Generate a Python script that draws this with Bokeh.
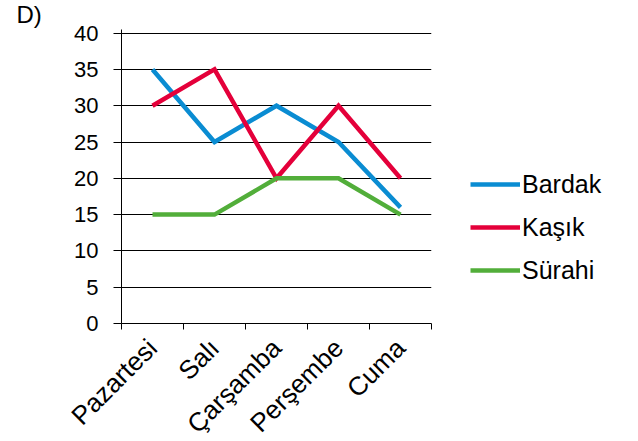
import math
from bokeh.plotting import figure
from bokeh.models import FixedTicker, Legend, LegendItem, Range1d
from bokeh.embed import file_html
from bokeh.resources import INLINE

days = ["Pazartesi", "Salı", "Çarşamba", "Perşembe", "Cuma"]
bardak = [35, 25, 30, 25, 16]
kasik = [30, 35, 20, 30, 20]
surahi = [15, 15, 20, 20, 15]
series_names = ["Bardak", "Kaşık", "Sürahi"]
y_ticks = [0, 5, 10, 15, 20, 25, 30, 35, 40]

colors = ["#0A8CD2", "#E4003A", "#52AE3A"]
FONT = "Liberation Sans"

xs = [i + 0.5 for i in range(len(days))]

p = figure(frame_width=310, frame_height=294, output_backend="svg", toolbar_location=None,
           x_range=Range1d(0, len(days)), y_range=Range1d(0, 40.5),
           min_border_left=121, min_border_right=199, min_border_top=29,
           min_border_bottom=111, title="D)")
p.outline_line_color = None
p.background_fill_color = "white"
p.border_fill_color = "white"

p.title.align = "left"
p.title.vertical_align = "top"
p.title.offset = -105
p.title.standoff = 0
p.title.text_font = FONT
p.title.text_font_size = "24px"
p.title.text_font_style = "normal"
p.title.text_color = "black"

renderers = []
for vals, c in zip([bardak, kasik, surahi], colors):
    r = p.line(xs, vals, line_color=c, line_width=4.5, line_cap="butt", line_join="miter")
    renderers.append(r)

# x axis: labels at category centres, minor ticks at boundaries
xa = p.xaxis[0]
xa.ticker = FixedTicker(ticks=xs, minor_ticks=list(range(len(days) + 1)))
xa.major_label_overrides = {x: d for x, d in zip(xs, days)}
xa.major_tick_out = 0
xa.major_tick_in = 0
xa.minor_tick_out = 6
xa.minor_tick_in = 0
xa.minor_tick_line_color = "black"
xa.axis_line_color = "black"
xa.major_label_orientation = math.pi / 4
xa.major_label_text_font = FONT
xa.major_label_text_font_size = "26px"
xa.major_label_text_color = "black"
xa.major_label_standoff = 14

ya = p.yaxis[0]
ya.ticker = FixedTicker(ticks=y_ticks, minor_ticks=[])
ya.major_tick_out = 8
ya.major_tick_in = 0
ya.major_tick_line_color = "black"
ya.axis_line_color = "black"
ya.major_label_text_font = FONT
ya.major_label_text_font_size = "22px"
ya.major_label_text_color = "black"
ya.major_label_standoff = 15

p.xgrid.grid_line_color = None
p.ygrid.ticker = FixedTicker(ticks=y_ticks)
p.ygrid.grid_line_color = "black"
p.ygrid.grid_line_width = 1

legend = Legend(items=[LegendItem(label=n, renderers=[r]) for n, r in zip(series_names, renderers)],
                location=(39, 38), padding=0, margin=0, spacing=13,
                glyph_width=50, glyph_height=30, label_height=30, label_standoff=2,
                border_line_color=None, background_fill_alpha=0,
                label_text_font=FONT, label_text_font_size="25px", label_text_color="black")
p.add_layout(legend, "right")

open("out.html", "w").write(file_html(p, INLINE))
